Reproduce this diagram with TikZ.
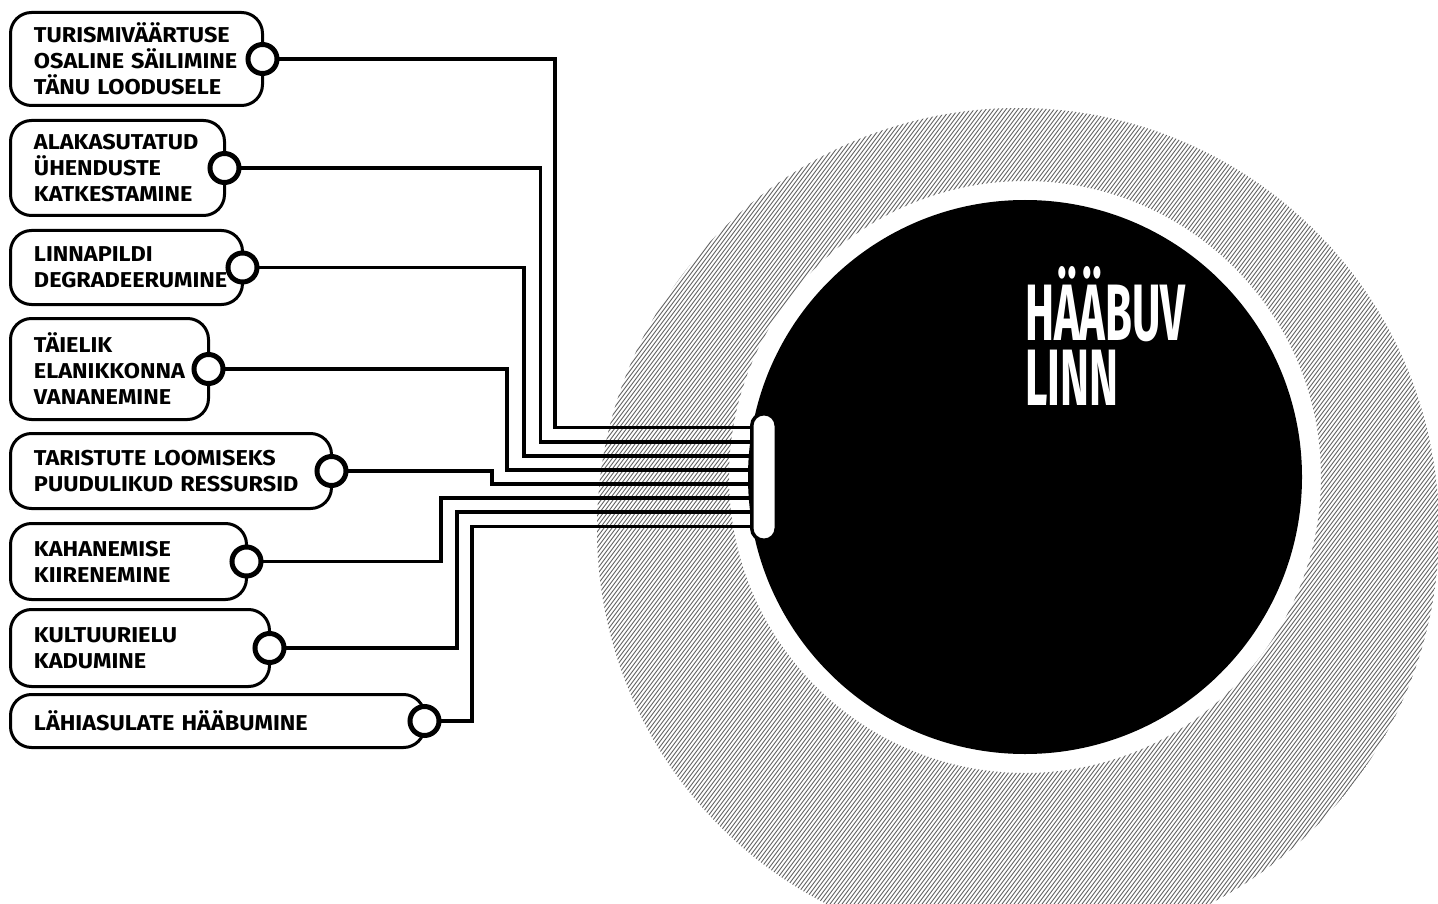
\documentclass[tikz,border=0pt]{standalone}
\usepackage{fontspec}
\newfontfamily\boxfont[FakeStretch=1.09]{Fira Sans}
\newfontfamily\titlefont[FakeStretch=0.545]{Fira Sans}
\usetikzlibrary{calc}

\begin{document}
\begin{tikzpicture}[x=1pt,y=-1pt,
  box/.style={draw, line width=3pt, rounded corners=21pt, fill=white,
    anchor=north west, outer sep=0pt, inner xsep=23.5pt, inner ysep=0pt,
    align=left, font=\boxfont\bfseries\fontsize{21.5}{26}\selectfont},
  jack/.style={circle, draw, line width=5pt, fill=white, minimum size=29pt, inner sep=0pt},
  wire/.style={line width=3.6pt},
  hatch/.style={line width=0.9pt, black!62},
  titletext/.style={anchor=base west, text=white, inner sep=0pt, align=left,
    font=\titlefont\bfseries\fontsize{80}{65}\selectfont}
]
\useasboundingbox (0,0) rectangle (1438,904);

% striped halo around the city
\begin{scope}[even odd rule]
  \clip (1018,529) circle[radius=421pt] (1025,477) circle[radius=296pt];
  \foreach \c in {-160,-156,...,1440}
    \draw[hatch] (\c,960) -- ++(720,-960);
\end{scope}

% the city disc
\node[circle, fill=black, minimum size=554pt, inner sep=0pt] (city) at (1025,477) {};
\node[titletext] (title) at (1025,405) {HÄÄBUV\\LINN};

% connector plug on the disc
\node[draw, line width=3.5pt, fill=white, rounded corners=12pt, minimum width=24.5pt,
  minimum height=126.5pt, inner sep=0pt, outer sep=0pt] (plug) at (764,477) {};
\coordinate (p1) at ($(plug.west)+(0,-49.35)$);
\coordinate (p2) at ($(plug.west)+(0,-35.25)$);
\coordinate (p3) at ($(plug.west)+(0,-21.15)$);
\coordinate (p4) at ($(plug.west)+(0,-7.05)$);
\coordinate (p5) at ($(plug.west)+(0,7.05)$);
\coordinate (p6) at ($(plug.west)+(0,21.15)$);
\coordinate (p7) at ($(plug.west)+(0,35.25)$);
\coordinate (p8) at ($(plug.west)+(0,49.35)$);

% factor boxes
\node[box, text width=205pt, minimum height=93pt] (b1) at (10.5,12.5)
  {TURISMIVÄÄRTUSE\\OSALINE SÄILIMINE\\TÄNU LOODUSELE};
\node[box, text width=167pt, minimum height=95pt] (b2) at (10.5,120.5)
  {ALAKASUTATUD\\ÜHENDUSTE\\KATKESTAMINE};
\node[box, text width=185pt, minimum height=74pt] (b3) at (10.5,230.5)
  {LINNAPILDI\\DEGRADEERUMINE};
\node[box, text width=151pt, minimum height=101pt] (b4) at (10.5,318.5)
  {TÄIELIK\\ELANIKKONNA\\VANANEMINE};
\node[box, text width=274pt, minimum height=75pt] (b5) at (10.5,433.5)
  {TARISTUTE LOOMISEKS\\PUUDULIKUD RESSURSID};
\node[box, text width=189pt, minimum height=76pt] (b6) at (10.5,523.5)
  {KAHANEMISE\\KIIRENEMINE};
\node[box, text width=212pt, minimum height=77pt] (b7) at (10.5,609.5)
  {KULTUURIELU\\KADUMINE};
\node[box, text width=367pt, minimum height=53pt] (b8) at (10.5,694.5)
  {LÄHIASULATE HÄÄBUMINE};

% wires from the plug to each box
\draw[wire] (p1) -- ++(-196.75,0) |- (b1.east);
\draw[wire] (p2) -- ++(-211.25,0) |- (b2.east);
\draw[wire] (p3) -- ++(-227.75,0) |- (b3.east);
\draw[wire] (p4) -- ++(-244.75,0) |- (b4.east);
\draw[wire] (p5) -- ++(-259.75,0) |- (b5.east);
\draw[wire] (p6) -- ++(-310.75,0) |- (b6.east);
\draw[wire] (p7) -- ++(-294.75,0) |- (b7.east);
\draw[wire] (p8) -- ++(-279.75,0) |- (b8.east);

% jacks on the box edges
\foreach \b in {b1,b2,b3,b4,b5,b6,b7,b8}
  \node[jack] (j\b) at (\b.east) {};
\end{tikzpicture}
\end{document}
